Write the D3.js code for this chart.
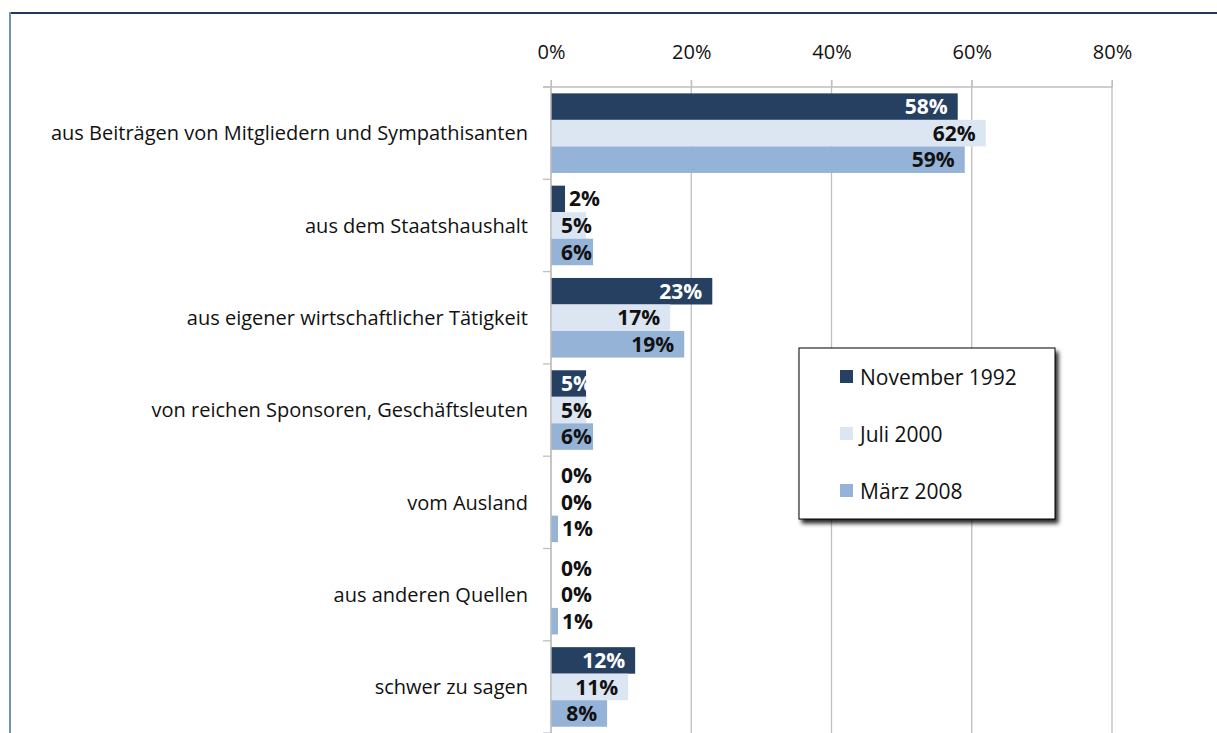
<!DOCTYPE html>
<html>
<head>
<meta charset="utf-8">
<script src="https://cdn.jsdelivr.net/npm/d3@7"></script>
<style>
  body { margin: 0; background: #fff; }
  svg text { font-family: "Open Sans", Lato, sans-serif; }
</style>
</head>
<body>
<div id="chart"></div>
<script>
// data
const categories = [
  "aus Beiträgen von Mitgliedern und Sympathisanten",
  "aus dem Staatshaushalt",
  "aus eigener wirtschaftlicher Tätigkeit",
  "von reichen Sponsoren, Geschäftsleuten",
  "vom Ausland",
  "aus anderen Quellen",
  "schwer zu sagen"
];
const seriesNames = ["November 1992", "Juli 2000", "März 2008"];
const nov1992 = [58, 2, 23, 5, 0, 0, 12];
const juli2000 = [62, 5, 17, 5, 0, 0, 11];
const maerz2008 = [59, 6, 19, 6, 1, 1, 8];
const tickValues = [0, 20, 40, 60, 80];
const colors = ["#264061", "#dce6f2", "#95b3d7"];

const allSeries = [nov1992, juli2000, maerz2008];

const W = 1217, H = 733;
const svg = d3.select("#chart").append("svg")
  .attr("width", W).attr("height", H);

// drop shadow for legend
const defs = svg.append("defs");
const f = defs.append("filter").attr("id", "shadow")
  .attr("x", "-10%").attr("y", "-10%").attr("width", "130%").attr("height", "130%");
f.append("feDropShadow").attr("dx", 3).attr("dy", 4).attr("stdDeviation", 2)
  .attr("flood-color", "#000").attr("flood-opacity", 0.85);

// outer frame (top + left edges visible)
svg.append("line").attr("x1", 10).attr("x2", W).attr("y1", 13).attr("y2", 13)
  .attr("stroke", "#1f3a5a").attr("stroke-width", 2);
svg.append("line").attr("x1", 10).attr("x2", 10).attr("y1", 12).attr("y2", H)
  .attr("stroke", "#7393b3").attr("stroke-width", 2);

const x = d3.scaleLinear().domain([0, 80]).range([551, 1112]);
const axisY = 87;
const y = d3.scaleBand().domain(categories).range([axisY, axisY + 7 * 92.3]);
const inner = d3.scaleBand().domain([0, 1, 2]).range([0, y.bandwidth()]).paddingOuter(0.24);

// gridlines
svg.append("g").selectAll("line").data(tickValues).join("line")
  .attr("x1", d => x(d)).attr("x2", d => x(d))
  .attr("y1", axisY - 7).attr("y2", H)
  .attr("stroke", "#bfbfbf").attr("stroke-width", 1.3);

// top axis
const ax = svg.append("g").attr("transform", `translate(0,${axisY})`)
  .call(d3.axisTop(x).tickValues(tickValues).tickFormat(d => d + "%").tickSize(7).tickSizeOuter(0));
ax.select(".domain").remove();
ax.selectAll(".tick line").attr("stroke", "#bfbfbf");
ax.selectAll(".tick text").attr("font-size", 20).attr("fill", "#111").attr("dy", 0).attr("y", -28);
svg.append("line").attr("x1", 543).attr("x2", x(80)).attr("y1", axisY).attr("y2", axisY)
  .attr("stroke", "#bfbfbf").attr("stroke-width", 1.3);

// category separators on value axis
svg.append("g").selectAll("line").data(d3.range(8)).join("line")
  .attr("x1", 543).attr("x2", x(0))
  .attr("y1", i => axisY + i * y.step()).attr("y2", i => axisY + i * y.step())
  .attr("stroke", "#bfbfbf").attr("stroke-width", 1.3);

// bars
const groups = svg.append("g").selectAll("g").data(categories).join("g")
  .attr("transform", c => `translate(0,${y(c)})`);

groups.each(function(c, ci) {
  const g = d3.select(this);
  allSeries.forEach((s, si) => {
    const v = s[ci];
    g.append("rect")
      .attr("x", x(0)).attr("y", inner(si))
      .attr("width", x(v) - x(0)).attr("height", inner.bandwidth())
      .attr("fill", colors[si]);
  });
});

// value axis line
svg.append("line").attr("x1", x(0)).attr("x2", x(0)).attr("y1", axisY).attr("y2", H)
  .attr("stroke", "#bfbfbf").attr("stroke-width", 1.3);

// value labels
groups.each(function(c, ci) {
  const g = d3.select(this);
  allSeries.forEach((s, si) => {
    const v = s[ci];
    const t = g.append("text")
      .attr("y", inner(si) + inner.bandwidth() / 2)
      .attr("dy", "0.36em")
      .attr("font-size", 21).attr("font-weight", 700)
      .text(v + "%");
    const w = t.node().getComputedTextLength();
    const barW = x(v) - x(0);
    let start, inside;
    if (barW < 25) {
      start = Math.max(x(v) + 4, x(0) + 10);
      inside = false;
    } else {
      start = Math.max(x(v) - 10 - w, x(0) + 10);
      inside = true;
    }
    t.attr("x", start)
      .attr("fill", inside && si === 0 ? "#fff" : "#111");
  });
});

// category labels
svg.append("g").selectAll("text").data(categories).join("text")
  .attr("x", 528).attr("y", c => y(c) + y.bandwidth() / 2)
  .attr("dy", "0.36em").attr("text-anchor", "end")
  .attr("font-size", 20).attr("fill", "#111")
  .text(c => c);

// legend
const lg = svg.append("g").attr("transform", "translate(799,348)");
lg.append("rect").attr("width", 256).attr("height", 171)
  .attr("fill", "#fff").attr("stroke", "#000").attr("stroke-width", 1)
  .attr("filter", "url(#shadow)");
const items = lg.selectAll("g.item").data(seriesNames).join("g")
  .attr("class", "item")
  .attr("transform", (d, i) => `translate(41,${29 + i * 57})`);
items.append("rect").attr("x", 0).attr("y", -7).attr("width", 13).attr("height", 13)
  .attr("fill", (d, i) => colors[i]);
items.append("text").attr("x", 20).attr("dy", "0.36em")
  .attr("font-size", 21).attr("fill", "#111").text(d => d);
</script>
</body>
</html>
